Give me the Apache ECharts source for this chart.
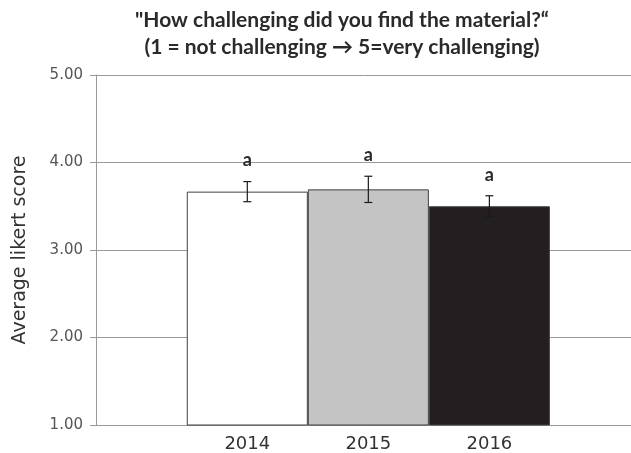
<!DOCTYPE html>
<html>
<head>
<meta charset="utf-8">
<script src="https://cdn.jsdelivr.net/npm/echarts@6/dist/echarts.min.js"></script>
<style>
  html, body { margin: 0; padding: 0; background: #fff; }
  #chart { width: 631px; height: 453px; }
</style>
</head>
<body>
<div id="chart"></div>
<script>
// Survey years, mean Likert score, standard error and significance letters
const years = ['2014', '2015', '2016'];
const means = [3.667, 3.693, 3.50];
const errors = [0.115, 0.15, 0.12];
const letters = ['a', 'a', 'a'];
const barColors = ['#ffffff', '#c4c4c4', '#231f20'];
const yTicks = [1, 2, 3, 4, 5];

// x runs in "bar units": each bar is one unit wide, the plot ends at the canvas edge
const X_MIN = -1.25, X_MAX = 3.17;
const PLOT_LEFT = 96, PLOT_W = 535;

const chart = echarts.init(document.getElementById('chart'), null, { renderer: 'canvas' });

const barData = means.map((m, i) => ({
  value: [i, m],
  itemStyle: { color: barColors[i] }
}));
const errData = means.map((m, i) => [i, m, errors[i]]);

function renderError(params, api) {
  const x = api.value(0);
  const m = api.value(1);
  const e = api.value(2);
  const top = api.coord([x, m + e]);
  const bot = api.coord([x, m - e]);
  const cap = 4;
  const style = { stroke: '#1a1a1a', lineWidth: 1.2 };
  return {
    type: 'group',
    children: [
      { type: 'line', shape: { x1: top[0], y1: top[1], x2: bot[0], y2: bot[1] }, style },
      { type: 'line', shape: { x1: top[0] - cap, y1: top[1], x2: top[0] + cap, y2: top[1] }, style },
      { type: 'line', shape: { x1: bot[0] - cap, y1: bot[1], x2: bot[0] + cap, y2: bot[1] }, style },
      {
        type: 'text',
        style: {
          text: letters[params.dataIndex],
          x: top[0], y: top[1] - 12,
          align: 'center', verticalAlign: 'bottom',
          font: 'bold 18px Lato, "Liberation Sans", sans-serif',
          fill: '#2a2a2a'
        }
      }
    ]
  };
}

chart.setOption({
  animation: false,
  backgroundColor: '#ffffff',
  title: {
    text: '"How challenging did you find the material?“\n(1 = not challenging \u2192 5=very challenging)',
    left: 337,
    top: 2,
    textAlign: 'center',
    textStyle: {
      fontFamily: 'Lato, "Liberation Sans", sans-serif',
      fontWeight: 'bold',
      fontSize: 21,
      lineHeight: 27,
      color: '#2a2a2a'
    }
  },
  grid: { left: PLOT_LEFT, top: 75, width: PLOT_W, height: 352, containLabel: false },
  xAxis: {
    type: 'value',
    min: X_MIN,
    max: X_MAX,
    axisLine: { show: true, onZero: false, lineStyle: { color: '#999', width: 1 } },
    axisTick: { show: false },
    splitLine: { show: false },
    axisLabel: {
      customValues: [0, 1, 2],
      formatter: v => years[Math.round(v)],
      fontFamily: '"DejaVu Sans", Verdana, sans-serif',
      fontSize: 18,
      color: '#333',
      margin: 10
    }
  },
  yAxis: {
    type: 'value',
    min: yTicks[0],
    max: yTicks[yTicks.length - 1],
    interval: 1,
    name: 'Average likert score',
    nameLocation: 'middle',
    nameGap: 66,
    nameTextStyle: {
      fontFamily: '"DejaVu Sans", Verdana, sans-serif',
      fontSize: 19,
      color: '#333'
    },
    axisLine: { show: true, onZero: false, lineStyle: { color: '#999', width: 1 } },
    axisTick: { show: true, length: 6, lineStyle: { color: '#999' } },
    splitLine: { show: true, lineStyle: { color: '#9a9a9a', width: 1 } },
    axisLabel: {
      formatter: v => v.toFixed(2),
      fontFamily: '"DejaVu Sans", Verdana, sans-serif',
      fontSize: 15,
      color: '#555',
      margin: 13
    }
  },
  series: [
    {
      type: 'bar',
      data: barData,
      // one x unit per bar, so neighbouring bars touch
      barWidth: PLOT_W / (X_MAX - X_MIN),
      itemStyle: { borderColor: '#404040', borderWidth: 1 },
      z: 2
    },
    {
      type: 'custom',
      data: errData,
      renderItem: renderError,
      z: 5
    }
  ]
});
</script>
</body>
</html>
